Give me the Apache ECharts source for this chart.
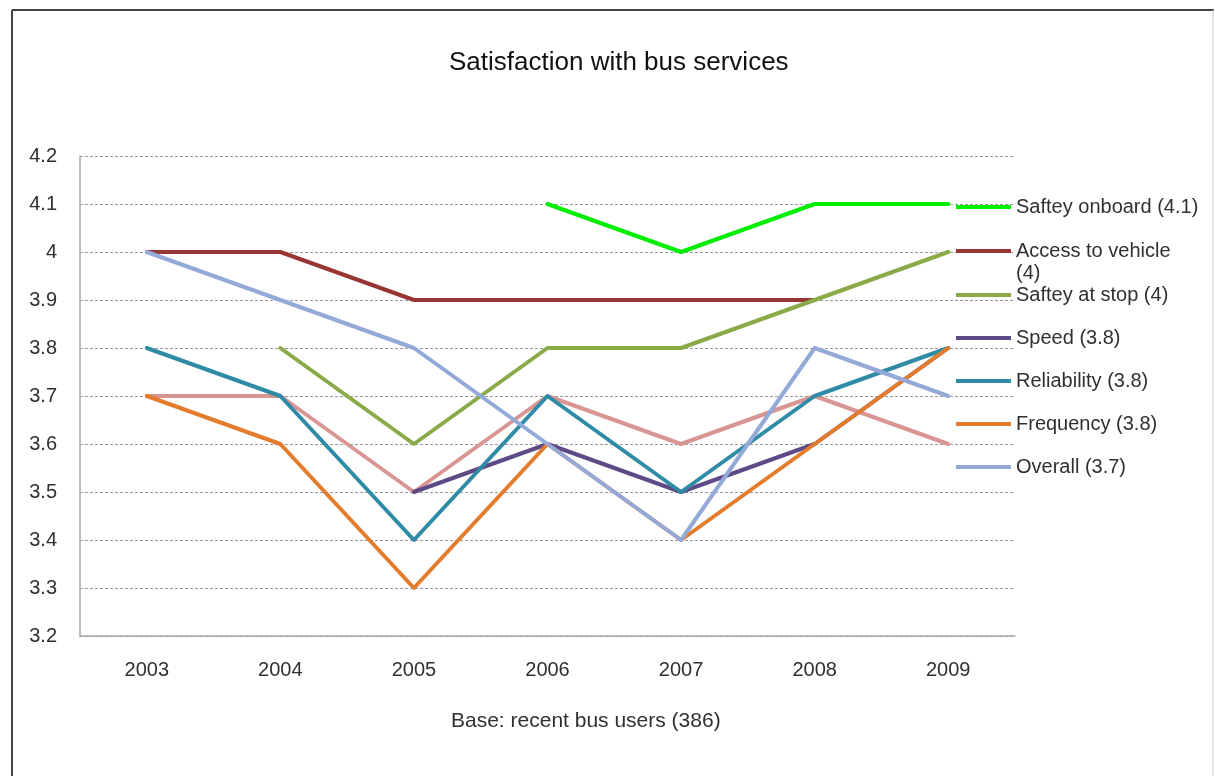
<!DOCTYPE html>
<html>
<head>
<meta charset="utf-8">
<script src="https://cdn.jsdelivr.net/npm/echarts@6/dist/echarts.min.js"></script>
<style>
  html, body { margin: 0; padding: 0; background: #fff; }
  #chart { width: 1215px; height: 776px; }
</style>
</head>
<body>
<div id="chart"></div>
<script>
// Survey years
const years = ['2003', '2004', '2005', '2006', '2007', '2008', '2009'];

// Mean satisfaction scores per aspect (null = not asked that year)
const safetyOnboard   = [null, null, null, 4.1, 4.0, 4.1, 4.1];
const accessToVehicle = [4.0, 4.0, 3.9, 3.9, 3.9, 3.9, null];
const safetyAtStop    = [null, 3.8, 3.6, 3.8, 3.8, 3.9, 4.0];
const speed           = [null, null, 3.5, 3.6, 3.5, 3.6, 3.8];
const reliability     = [3.8, 3.7, 3.4, 3.7, 3.5, 3.7, 3.8];
const frequency       = [3.7, 3.6, 3.3, 3.6, 3.4, 3.6, 3.8];
const overall         = [4.0, 3.9, 3.8, 3.6, 3.4, 3.8, 3.7];
const otherAspect     = [3.7, 3.7, 3.5, 3.7, 3.6, 3.7, 3.6];

// Value-axis range
const yMin = 3.2, yMax = 4.2, yStep = 0.1;

const FONT = '"Liberation Sans", Arial, sans-serif';
const TEXT = '#303030';

const seriesDefs = [
  { name: 'Other',                  data: otherAspect,     color: '#d99594', legend: false },
  { name: 'Saftey onboard (4.1)',   data: safetyOnboard,   color: '#00ee00', legend: true, y: 207 },
  { name: 'Access to vehicle (4)',  data: accessToVehicle, color: '#983635', legend: true, y: 251, label: 'Access to vehicle' },
  { name: 'Saftey at stop (4)',     data: safetyAtStop,    color: '#8aaa48', legend: true, y: 295 },
  { name: 'Speed (3.8)',            data: speed,           color: '#5e4a86', legend: true, y: 338 },
  { name: 'Reliability (3.8)',      data: reliability,     color: '#2f8ba6', legend: true, y: 381 },
  { name: 'Frequency (3.8)',        data: frequency,       color: '#e47c2e', legend: true, y: 424 },
  { name: 'Overall (3.7)',          data: overall,         color: '#93a9d8', legend: true, y: 467 }
];

const chart = echarts.init(document.getElementById('chart'), null, { renderer: 'canvas' });

const legends = seriesDefs.filter(s => s.legend).map(s => ({
  data: [s.name],
  orient: 'vertical',
  left: 956,
  top: s.y - 11,
  icon: 'rect',
  itemWidth: 55,
  itemHeight: 4,
  selectedMode: false,
  padding: 0,
  formatter: () => s.label || s.name,
  textStyle: { fontFamily: FONT, fontSize: 20, color: TEXT, lineHeight: 22 }
}));

chart.setOption({
  animation: false,
  backgroundColor: '#ffffff',
  title: [
    {
      text: 'Satisfaction with bus services',
      left: 444, top: 45,
      textStyle: { fontFamily: FONT, fontSize: 26, fontWeight: 'normal', color: '#111' }
    },
    {
      text: 'Base: recent bus users (386)',
      left: 446, top: 706,
      textStyle: { fontFamily: FONT, fontSize: 21, fontWeight: 'normal', color: TEXT }
    }
  ],
  legend: legends,
  graphic: [
    // frame around the chart
    { type: 'line', shape: { x1: 12, y1: 10, x2: 12, y2: 776 }, style: { stroke: '#444', lineWidth: 2 } },
    { type: 'line', shape: { x1: 12, y1: 10, x2: 1214, y2: 10 }, style: { stroke: '#444', lineWidth: 2 } },
    { type: 'line', shape: { x1: 1213, y1: 10, x2: 1213, y2: 776 }, style: { stroke: '#cfcfcf', lineWidth: 1 } },
    // wrapped remainder of the "Access to vehicle" legend label
    { type: 'text', left: 1016, top: 263,
      style: { text: '(4)', font: '20px ' + FONT, fill: TEXT } }
  ],
  grid: { left: 80, right: 200, top: 156, bottom: 140, containLabel: false },
  xAxis: {
    type: 'category',
    data: years,
    boundaryGap: true,
    axisLine: { show: true, lineStyle: { color: '#a6a6a6', width: 1.5 } },
    axisTick: { show: false },
    axisLabel: { fontFamily: FONT, fontSize: 20, color: TEXT, margin: 24 },
    splitLine: { show: false }
  },
  yAxis: {
    type: 'value',
    min: yMin, max: yMax, interval: yStep,
    axisLine: { show: true, lineStyle: { color: '#a6a6a6', width: 1.5 } },
    axisTick: { show: false },
    axisLabel: {
      fontFamily: FONT, fontSize: 20, color: TEXT, margin: 23,
      formatter: v => String(+v.toFixed(1))
    },
    splitLine: { show: true, lineStyle: { color: '#9a9a9a', width: 1, type: [3, 2] } }
  },
  series: seriesDefs.map(s => ({
    name: s.name,
    type: 'line',
    data: s.data,
    symbol: 'none',
    connectNulls: false,
    lineStyle: { color: s.color, width: 4, cap: 'round', join: 'round' },
    itemStyle: { color: s.color },
    emphasis: { disabled: true }
  }))
});
</script>
</body>
</html>
